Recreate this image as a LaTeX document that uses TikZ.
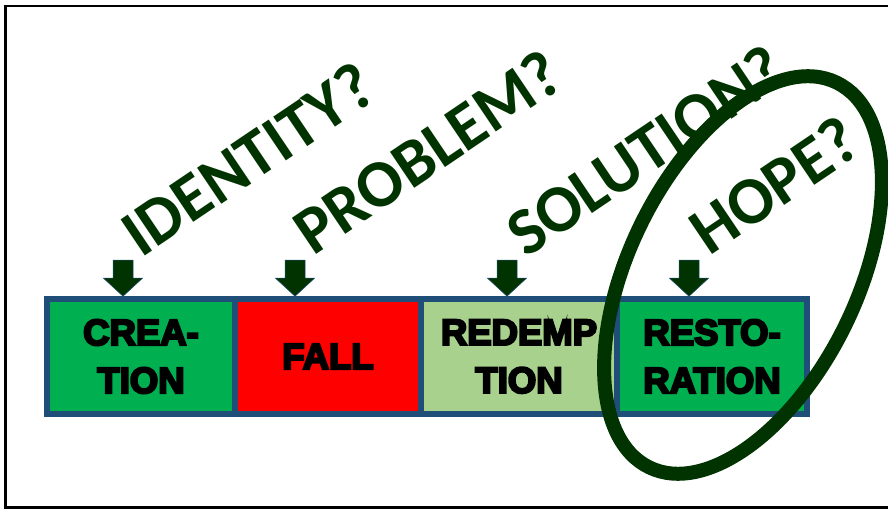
\documentclass[tikz,border=0pt]{standalone}
\usepackage{fontspec}
\usetikzlibrary{positioning}
\newfontfamily\stagefont{Liberation Sans Bold}[FakeBold=6]
\newfontfamily\askfont{Carlito}
\definecolor{stagegreen}{HTML}{00B050}
\definecolor{stagered}{HTML}{FF0000}
\definecolor{stagelight}{HTML}{A9D18E}
\definecolor{stageedge}{HTML}{1F4E79}
\definecolor{askgreen}{HTML}{003300}

\begin{document}
\begin{tikzpicture}[x=1pt,y=1pt,
  stage/.style={draw=stageedge,line width=5.5pt,outer sep=0pt,inner sep=0pt,
    minimum height=115pt,align=center,text=black,
    font=\stagefont\fontsize{36.5}{48}\selectfont},
  ask/.style={anchor=base west,rotate=34,inner sep=0pt,text=askgreen,
    font=\askfont\bfseries\fontsize{67}{67}\selectfont},
  downblock/.pic={\filldraw[fill=askgreen,draw=stageedge,line width=0.5pt]
    (-10,36) -- (10,36) -- (10,18) -- (19.5,18) -- (0,0) -- (-19.5,18) -- (-10,18) -- cycle;}]
  \useasboundingbox (0,0) rectangle (888,511);
  % frame
  \draw[line width=2.5pt] (5.5,505) rectangle (895,3.5);
  % stages
  \node[stage,fill=stagegreen,minimum width=188pt] (creation) at (141,154.5) {CREA-\\TION};
  \node[stage,fill=stagered,minimum width=186pt,right=0pt of creation] (fall) {FALL};
  \node[stage,fill=stagelight,minimum width=196pt,right=0pt of fall] (redemption) {REDEMP\\TION};
  \node[stage,fill=stagegreen,minimum width=190pt,right=0pt of redemption] (restoration) {RESTO-\\RATION};
  % arrows
  \coordinate (tip1) at ([xshift=-18pt,yshift=2.75pt]creation.north);
  \coordinate (tip2) at ([xshift=-33pt,yshift=2.75pt]fall.north);
  \coordinate (tip3) at ([xshift=-12pt,yshift=2.75pt]redemption.north);
  \coordinate (tip4) at ([xshift=-23pt,yshift=2.75pt]restoration.north);
  \foreach \t in {tip1,tip2,tip3,tip4}
    \pic at (\t) {downblock};
  % questions
  \node[ask] (identity) at ([shift={(18,38)}]tip1) {IDENTITY?};
  \node[ask] (problem) at ([shift={(18,40)}]tip2) {PROBLEM?};
  \node[ask] (solution) at ([shift={(19,38)}]tip3) {SOLUTION?};
  \node[ask] (hope) at ([shift={(20,40)}]tip4) {HOPE?};
  % ring
  \draw[askgreen,line width=14pt,rotate around={64:(743,236)}] (743,236) ellipse (214 and 114);
\end{tikzpicture}
\end{document}
